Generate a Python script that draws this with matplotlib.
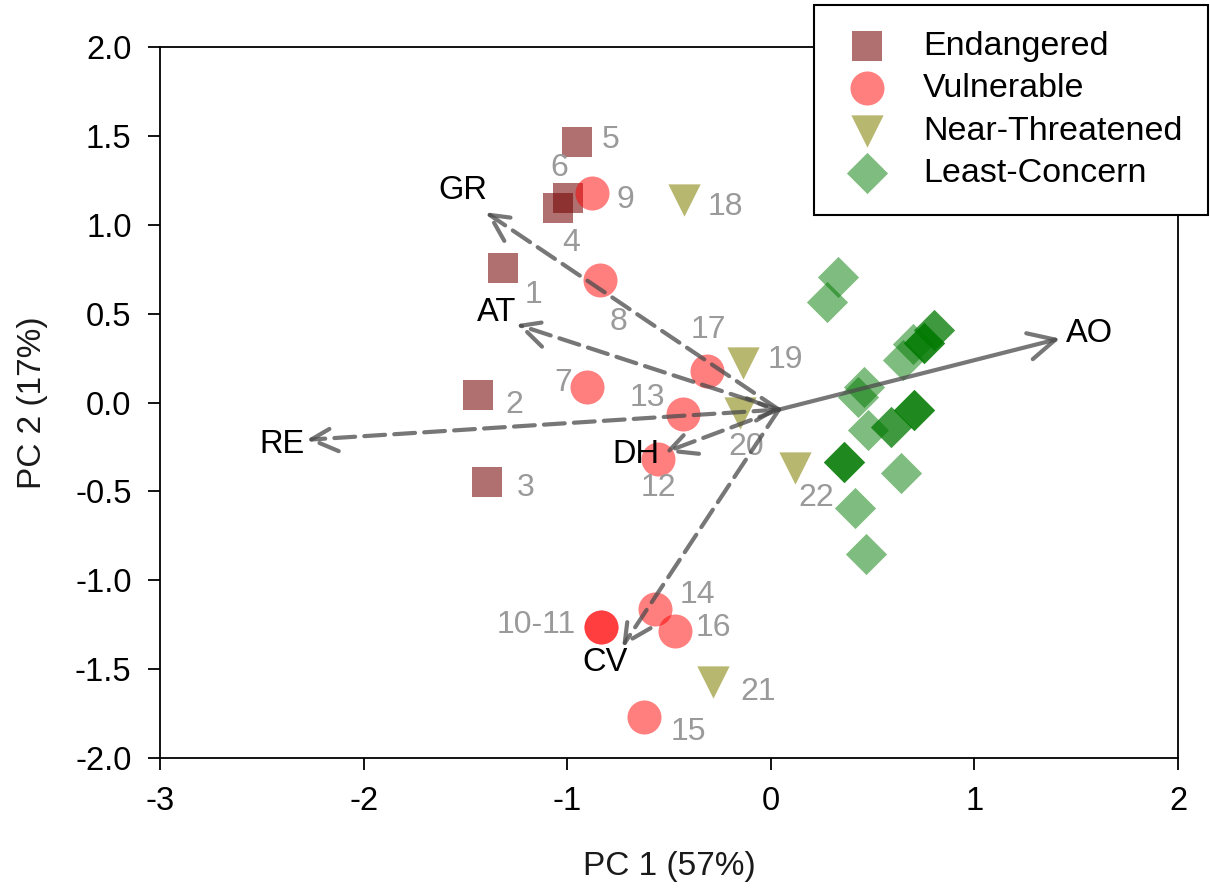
import matplotlib
matplotlib.use("Agg")
import matplotlib.pyplot as plt

plt.rcParams['font.family'] = ['Liberation Sans', 'DejaVu Sans']

# species scores (duplicates = overlapping species)
en_x = [-0.953, -0.997, -1.046, -1.316, -1.439, -1.395]
en_y = [1.465, 1.150, 1.094, 0.757, 0.042, -0.447]
en_lab = ['5', '6', '4', '1', '2', '3']

vu_x = [-0.879, -0.840, -0.314, -0.904, -0.432, -0.555, -0.835, -0.835, -0.570, -0.472, -0.624]
vu_y = [1.178, 0.689, 0.177, 0.087, -0.065, -0.318, -1.263, -1.263, -1.162, -1.286, -1.769]
vu_lab = ['9', '8', '17', '7', '13', '12', '10-11', '', '14', '16', '15']

nt_x = [-0.427, -0.138, -0.152, 0.118, -0.285]
nt_y = [1.139, 0.222, -0.059, -0.368, -1.572]
nt_lab = ['18', '19', '20', '22', '21']

lc_x = [0.329, 0.275, 0.80, 0.80, 0.75, 0.75, 0.75, 0.70, 0.648, 0.457, 0.427,
        0.476, 0.702, 0.702, 0.702, 0.589, 0.589, 0.359, 0.359, 0.359,
        0.638, 0.413, 0.467]
lc_y = [0.706, 0.565, 0.408, 0.408, 0.335, 0.335, 0.335, 0.33, 0.239, 0.087, 0.031,
        -0.155, -0.042, -0.042, -0.042, -0.138, -0.138, -0.335, -0.335, -0.335,
        -0.397, -0.594, -0.852]

# variable loadings
var_names = ['GR', 'AT', 'RE', 'DH', 'CV', 'AO']
var_x = [-1.40, -1.25, -2.28, -0.52, -0.73, 1.42]
var_y = [1.07, 0.44, -0.21, -0.28, -1.375, 0.36]
var_solid = [False, False, False, False, False, True]
var_heads = ['->', '->', '<->', '->', '->', '->']
origin = (0.04, -0.04)

# label offsets in pixels (right, up)
en_off = [(34, 2), (-9, 30), (13, -35), (31, -27), (36, -10), (39, -6)]
vu_off = [(34, -7), (19, -42), (2, 41), (-23, 4), (-35, 16), (1, -29), (-65, 2),
          (0, 0), (43, 14), (39, 3), (45, -15)]
nt_off = [(42, -7), (43, 3), (6, -34), (21, -30), (45, -10)]
var_off = [(-23, 22), (-20, 12), (-25, -5), (-29, -2), (-17, -16), (30, 5)]

PX = 0.72  # points per pixel at dpi 100

fig = plt.figure(figsize=(12.1, 8.88), dpi=100)
ax = fig.add_axes([160 / 1210, 1 - 758 / 888, (1178 - 160) / 1210, (758 - 47) / 888])

h_en = ax.scatter(en_x, en_y, marker='s', s=460, c='#720000', alpha=0.56,
                  linewidths=0, label='Endangered', zorder=3)
h_vu = ax.scatter(vu_x, vu_y, marker='o', s=600, c='#ff0000', alpha=0.5,
                  linewidths=0, label='Vulnerable', zorder=3)
h_nt = ax.scatter(nt_x, nt_y, marker='v', s=540, c='#808000', alpha=0.56,
                  linewidths=0, label='Near-Threatened', zorder=3)
h_lc = ax.scatter(lc_x, lc_y, marker='D', s=440, c='#007a00', alpha=0.5,
                  linewidths=0, label='Least-Concern', zorder=3)

# grey numbers next to the species
for xs, ys, labs, offs in [(en_x, en_y, en_lab, en_off),
                           (vu_x, vu_y, vu_lab, vu_off),
                           (nt_x, nt_y, nt_lab, nt_off)]:
    for x, y, lab, (dx, dy) in zip(xs, ys, labs, offs):
        if lab == '':
            continue
        ax.annotate(lab, (x, y), xytext=(dx * PX, dy * PX), textcoords='offset points',
                    ha='center', va='center', fontsize=23, color='#9a9a9a', zorder=4)

# loading vectors
for name, x, y, solid, head, (dx, dy) in zip(var_names, var_x, var_y, var_solid,
                                             var_heads, var_off):
    ls = '-' if solid else (0, (5, 2.2))
    ax.annotate('', xy=(x, y), xytext=origin,
                arrowprops=dict(arrowstyle=head, lw=3, color='#4a4a4a', alpha=0.75,
                                linestyle=ls, mutation_scale=48,
                                shrinkA=0, shrinkB=0), zorder=5)
    ax.annotate(name, (x, y), xytext=(dx * PX, dy * PX), textcoords='offset points',
                ha='center', va='center', fontsize=23.5, color='black', zorder=6)

ax.set_xlim(-3, 2)
ax.set_ylim(-2, 2)
ax.set_xticks([-3, -2, -1, 0, 1, 2])
ax.set_yticks([-2.0, -1.5, -1.0, -0.5, 0.0, 0.5, 1.0, 1.5, 2.0])
ax.set_yticklabels(['-2.0', '-1.5', '-1.0', '-0.5', '0.0', '0.5', '1.0', '1.5', '2.0'])
ax.set_xticklabels(['-3', '-2', '-1', '0', '1', '2'])
ax.tick_params(direction='out', length=8.5, width=1.3, labelsize=23.5, pad=12)
for sp in ax.spines.values():
    sp.set_linewidth(1.3)

ax.set_xlabel('PC 1 (57%)', fontsize=24, color='#1a1a1a', va='center')
ax.set_ylabel('PC 2 (17%)', fontsize=24, color='#1a1a1a', va='center')
ax.xaxis.set_label_coords(0.5, (758 - 866) / 711)
ax.yaxis.set_label_coords((32 - 160) / 1018, 0.5)

leg = fig.legend(handles=[h_en, h_vu, h_nt, h_lc], loc='upper right',
                 bbox_to_anchor=(1208 / 1210, 1 - 5 / 888), fontsize=24.5,
                 frameon=True, fancybox=False, edgecolor='black', framealpha=1,
                 labelspacing=0.34, handlelength=1.6, handletextpad=0.85,
                 borderpad=0.75, borderaxespad=0, scatterpoints=1)
leg.get_frame().set_linewidth(1.5)
leg.set_zorder(10)

fig.savefig('out.png', dpi=100)
